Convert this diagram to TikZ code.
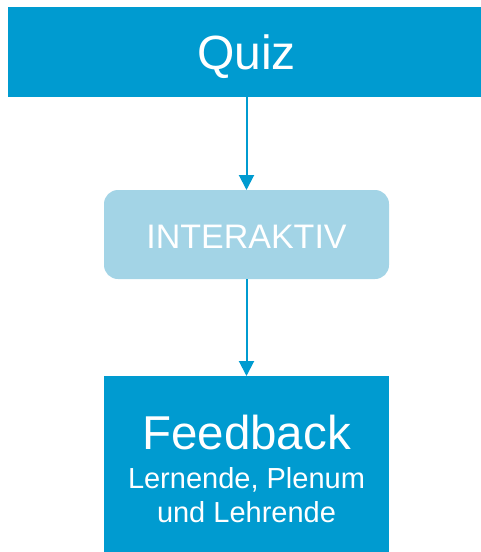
\documentclass[tikz,border=0pt]{standalone}
\usepackage{fontspec}
\setmainfont{Liberation Sans}
\usetikzlibrary{arrows.meta}
\definecolor{dblue}{HTML}{009BD0}
\definecolor{lblue}{HTML}{A3D4E6}
\begin{document}
\begin{tikzpicture}[x=1pt,y=-1pt,
  txt/.style={text=white,inner sep=0pt,anchor=base},
  conn/.style={draw=dblue,line width=2pt,-{Triangle[length=15pt,width=15pt]}}]
\useasboundingbox (0,0) rectangle (481,552);
% boxes
\fill[dblue] (8,7) rectangle (481,97);
\fill[lblue,rounded corners=14pt] (104,190) rectangle (389,279);
\fill[dblue] (104,376) rectangle (389,552);
\coordinate (qb) at (246.5,97);
\coordinate (it) at (246.5,190);
\coordinate (ib) at (246.5,279);
\coordinate (ft) at (246.5,376);
% texts
\node[txt,font=\fontsize{48}{52}\selectfont] (quiz) at (246.5,69.5) {Quiz};
\node[txt,font=\fontsize{34}{38}\selectfont] (inter) at (246.5,248) {INTERAKTIV};
\node[txt,font=\fontsize{47.5}{50}\selectfont] (fb) at (246.5,449) {Feedback};
\node[txt,font=\fontsize{29}{32}\selectfont] (l1) at (246.5,488) {Lernende, Plenum};
\node[txt,font=\fontsize{29}{32}\selectfont] (l2) at (246.5,522) {und Lehrende};
% connectors
\draw[conn] (qb) -- (it);
\draw[conn] (ib) -- (ft);
\end{tikzpicture}
\end{document}
